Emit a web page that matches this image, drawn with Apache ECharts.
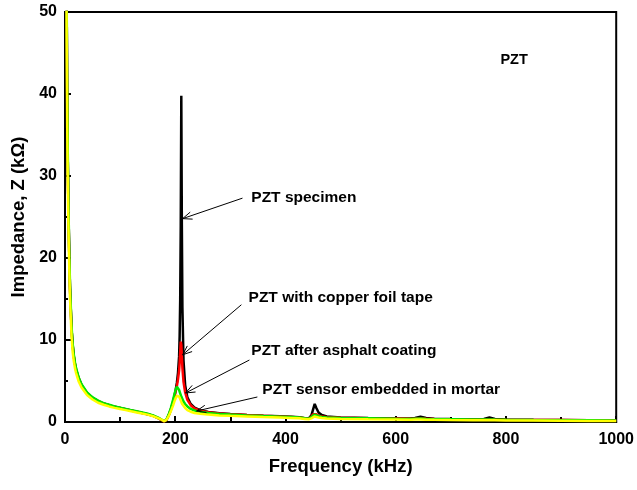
<!DOCTYPE html>
<html><head><meta charset="utf-8">
<script src="https://cdn.jsdelivr.net/npm/echarts@6/dist/echarts.min.js"></script>
<style>html,body{margin:0;padding:0;background:#fff}#c{width:637px;height:490px}</style>
</head><body><div id="c"></div>
<script>
const freq = [2,3,4,5,6,7,8,9,10,12,14,16,18,20,25,30,40,50,60,70,80,90,100,110,120,130,140,150,160,170,175,180,184,188,192,196,199,201,203,205,207,208,209,210,211,212,213,215,218,222,228,235,245,260,280,300,330,360,390,410,425,435,442,447,450,453,456,460,466,475,500,550,600,625,635,645,655,670,700,740,760,770,780,800,850,900,950,1000];

const zSpecimen = [78,51,39,32,27,23,19.5,16.5,14.6,11.2,9.3,8.0,7.1,6.4,5.3,4.5,3.5,2.95,2.55,2.25,2.05,1.85,1.7,1.55,1.4,1.25,1.1,0.95,0.75,0.45,
 0.25,0.05,0.25,0.8,1.5,2.4,3.3,4.0,4.8,6.0,8.0,10.5,15,24,39.8,24,14,
 7.5,4.5,3.0,2.2,1.75,1.45,1.22,1.06,0.97,0.86,0.77,0.7,0.64,0.58,0.46,0.42,0.8,1.5,2.2,
 1.7,1.15,0.85,0.68,0.56,0.48,0.44,0.42,0.48,0.65,0.48,0.4,0.36,0.33,0.38,0.55,0.38,0.3,0.26,0.24,0.22,0.2];

const zCopper = [78,51,39,32,27,23,19.5,16.5,14.6,11.2,9.3,8.0,7.1,6.4,5.3,4.5,3.5,2.95,2.55,2.25,2.05,1.85,1.7,1.55,1.4,1.25,1.1,0.95,0.75,0.45,
 0.25,0.05,0.25,0.8,1.5,2.4,3.2,3.8,4.4,5.2,6.3,7.2,8.5,9.8,9.4,8.0,6.6,
 4.9,3.6,2.7,2.05,1.65,1.38,1.18,1.03,0.95,0.84,0.75,0.68,0.62,0.56,0.45,0.4,0.65,0.95,1.1,
 0.95,0.78,0.66,0.58,0.52,0.46,0.42,0.4,0.42,0.46,0.4,0.36,0.34,0.31,0.31,0.34,0.31,0.28,0.25,0.23,0.21,0.19];

const zAsphalt = [80,52,40,33,28,23.5,20,17,15,11.5,9.5,8.2,7.3,6.6,5.4,4.6,3.6,3.0,2.6,2.3,2.1,1.9,1.75,1.6,1.45,1.3,1.15,1.0,0.8,0.5,
 0.3,0.1,0.3,0.9,1.7,2.7,3.5,4.0,4.3,4.2,3.9,3.7,3.5,3.3,3.1,2.95,2.8,
 2.5,2.2,1.9,1.6,1.4,1.25,1.1,0.98,0.9,0.8,0.72,0.65,0.6,0.55,0.45,0.4,0.6,0.8,0.9,
 0.8,0.7,0.62,0.55,0.5,0.45,0.4,0.38,0.4,0.42,0.38,0.35,0.33,0.3,0.3,0.32,0.3,0.27,0.24,0.22,0.2,0.18];

const zMortar = [72,47,36,29.5,25,21,18,15.3,13.5,10.3,8.5,7.4,6.6,6.0,4.9,4.2,3.3,2.75,2.35,2.1,1.9,1.72,1.58,1.45,1.3,1.17,1.03,0.9,0.7,0.45,
 0.28,0.1,0.25,0.7,1.3,2.0,2.6,2.95,3.2,3.3,3.1,2.95,2.8,2.6,2.45,2.3,2.15,
 1.95,1.7,1.45,1.25,1.1,1.0,0.9,0.8,0.75,0.68,0.6,0.54,0.5,0.45,0.38,0.33,0.45,0.6,0.68,
 0.62,0.55,0.48,0.43,0.38,0.33,0.3,0.28,0.29,0.3,0.28,0.26,0.24,0.22,0.21,0.22,0.21,0.19,0.17,0.15,0.13,0.12];

const seriesNames = ['PZT specimen','PZT with copper foil tape','PZT after asphalt coating','PZT sensor embedded in mortar'];
const seriesColors = ['#000000','#ff0000','#00e600','#ffff00'];
const seriesValues = [zSpecimen, zCopper, zAsphalt, zMortar];

const xTicks = [0,200,400,600,800,1000];
const yTicks = [0,10,20,30,40,50];

// annotations: [label, textX, textY, arrowStartX, arrowStartY, tipX, tipY] in data units
const annotations = [
  ['PZT specimen', 338, 27.4, 322, 27.3, 213.4, 24.8],
  ['PZT with copper foil tape', 333, 15.2, 320, 14.3, 213.4, 8.2],
  ['PZT after asphalt coating', 338, 8.66, 334.5, 7.56, 218.8, 3.54],
  ['PZT sensor embedded in mortar', 358, 3.9, 349, 3.05, 238.7, 1.34]
];
const titleLabel = ['PZT', 790, 44.1];

const FONT = '"Liberation Sans", Arial, sans-serif';
const chart = echarts.init(document.getElementById('c'), null, {renderer:'canvas'});

const option = {
  animation: false,
  backgroundColor: '#fff',
  grid: {left: 65, top: 12, right: 19, bottom: 68, show: true, borderColor: '#000', borderWidth: 2, backgroundColor: 'transparent'},
  xAxis: {
    type: 'value', min: xTicks[0], max: xTicks[xTicks.length-1], interval: 200,
    name: 'Frequency (kHz)', nameLocation: 'middle', nameGap: 35,
    nameTextStyle: {fontFamily: FONT, fontWeight: 'bold', fontSize: 18.5, color: '#000'},
    axisLine: {lineStyle: {color: '#000', width: 2}},
    axisTick: {inside: true, length: 6, lineStyle: {color: '#000', width: 2}},
    minorTick: {show: true, splitNumber: 2, length: 5, lineStyle: {color: '#000', width: 2}},
    axisLabel: {fontFamily: FONT, fontWeight: 'bold', fontSize: 16, color: '#000', margin: 10, formatter: v => String(v)},
    splitLine: {show: false}
  },
  yAxis: {
    type: 'value', min: yTicks[0], max: yTicks[yTicks.length-1], interval: 10,
    name: 'Impedance, Z (kΩ)', nameLocation: 'middle', nameGap: 37,
    nameTextStyle: {fontFamily: FONT, fontWeight: 'bold', fontSize: 18.5, color: '#000'},
    axisLine: {lineStyle: {color: '#000', width: 2}},
    axisTick: {inside: true, length: 6, lineStyle: {color: '#000', width: 2}},
    minorTick: {show: true, splitNumber: 2, length: 3, lineStyle: {color: '#000', width: 2}},
    axisLabel: {fontFamily: FONT, fontWeight: 'bold', fontSize: 16, color: '#000', margin: 8},
    splitLine: {show: false}
  },
  series: seriesValues.map((vals, i) => ({
    name: seriesNames[i], type: 'line', showSymbol: false, symbol: 'none',
    clip: true, z: 2 + i,
    lineStyle: {color: seriesColors[i], width: 2.5},
    data: freq.map((f, j) => [f, vals[j]])
  }))
};
chart.setOption(option);

function drawAnnotations() {
  const els = [];
  annotations.forEach(a => {
    const t = chart.convertToPixel({gridIndex: 0}, [a[1], a[2]]);
    const s = chart.convertToPixel({gridIndex: 0}, [a[3], a[4]]);
    const e = chart.convertToPixel({gridIndex: 0}, [a[5], a[6]]);
    els.push({type: 'text', x: t[0], y: t[1], z: 20,
      style: {text: a[0], font: 'bold 15.5px ' + FONT, fill: '#000', textVerticalAlign: 'middle', textAlign: 'left'}});
    els.push({type: 'line', z: 20, shape: {x1: s[0], y1: s[1], x2: e[0], y2: e[1]}, style: {stroke: '#000', lineWidth: 1}});
    const ang = Math.atan2(s[1]-e[1], s[0]-e[0]);
    const L = 10, w = 0.38;
    const p1 = [e[0] + L*Math.cos(ang+w), e[1] + L*Math.sin(ang+w)];
    const p2 = [e[0] + L*Math.cos(ang-w), e[1] + L*Math.sin(ang-w)];
    els.push({type: 'polyline', z: 20, shape: {points: [p1, e, p2]}, style: {stroke: '#000', lineWidth: 1, fill: null}});
  });
  const p = chart.convertToPixel({gridIndex: 0}, [titleLabel[1], titleLabel[2]]);
  els.push({type: 'text', x: p[0], y: p[1], z: 20,
    style: {text: titleLabel[0], font: 'bold 14.5px ' + FONT, fill: '#000', textVerticalAlign: 'middle', textAlign: 'left'}});
  chart.setOption({graphic: {elements: els}});
}
drawAnnotations();
</script>
</body></html>
